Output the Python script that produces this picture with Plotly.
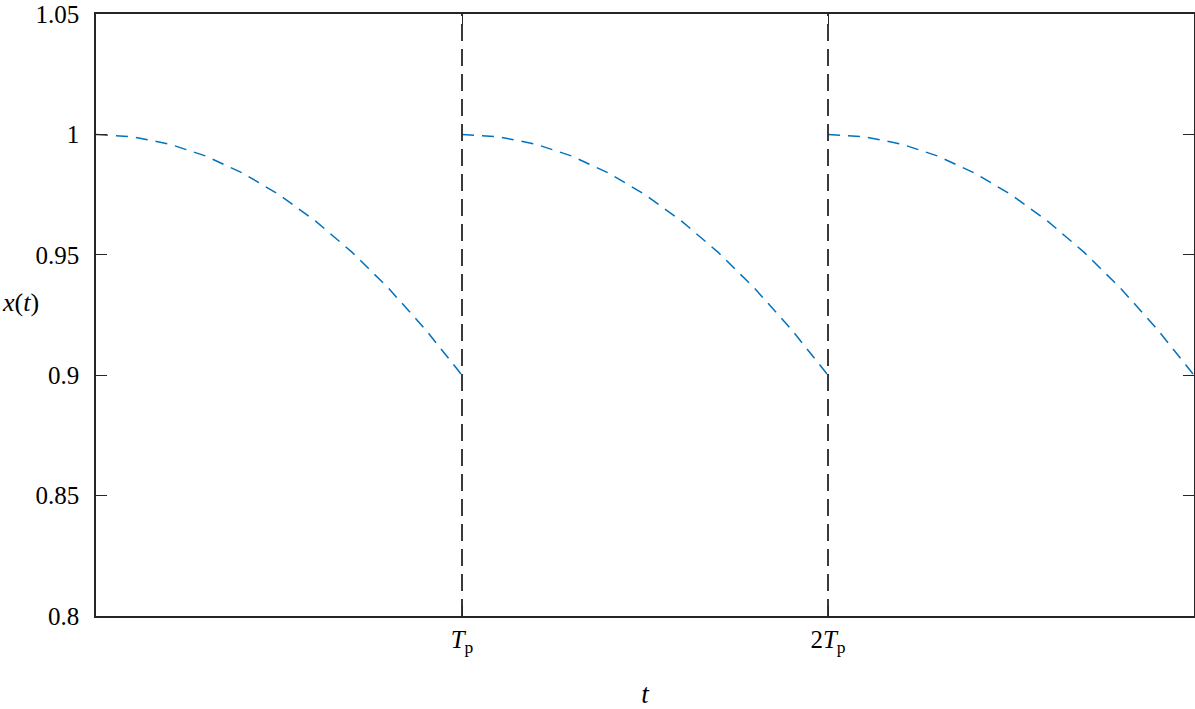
import plotly.graph_objects as go

phase = [0.0, 0.1, 0.2, 0.3, 0.4, 0.5, 0.6, 0.7, 0.8, 0.9, 1.0]
x_vals = [1.0, 0.999, 0.996, 0.991, 0.984, 0.975, 0.964, 0.951, 0.936, 0.919, 0.900]
n_periods = 3
period_marks = [1, 2]
tick_labels = ['<i>T</i><sub>p</sub>', '2<i>T</i><sub>p</sub>']
y_ticks = [0.8, 0.85, 0.9, 0.95, 1, 1.05]
y_tick_text = ['0.8', '0.85', '0.9', '0.95', '1', '1.05']

font = 'Liberation Serif, DejaVu Serif, serif'
axis_col = '#262626'

t_all, x_all = [], []
for k in range(n_periods):
    t_all += [k + p for p in phase] + [None]
    x_all += x_vals + [None]

fig = go.Figure()
fig.add_trace(go.Scatter(x=t_all, y=x_all, mode='lines',
                         line=dict(color='#0072BD', width=1.5, dash='12px,8px'),
                         connectgaps=False, showlegend=False, cliponaxis=False))

for m in period_marks:
    fig.add_trace(go.Scatter(x=[m, m], y=[0.8, 1.05], mode='lines',
                             line=dict(color=axis_col, width=1.8, dash='17px,8px'),
                             showlegend=False))

axis_common = dict(showgrid=False, zeroline=False, showline=True, linecolor=axis_col,
                   linewidth=1.5, mirror='ticks', ticks='inside', ticklen=11,
                   tickcolor=axis_col, tickwidth=1.2, ticklabeloverflow='allow',
                   automargin=False,
                   tickfont=dict(family=font, size=25, color='black'))

fig.update_xaxes(range=[0, 3], tickvals=period_marks, ticktext=tick_labels,
                 title=dict(text='<i>t</i>', font=dict(family=font, size=27, color='black'),
                            standoff=28),
                 **axis_common)
fig.update_yaxes(range=[0.8, 1.05], tickvals=y_ticks, ticktext=y_tick_text,
                 ticklabelstandoff=10, **axis_common)

fig.add_annotation(text='<i>x</i>(<i>t</i>)', xref='paper', yref='paper',
                   x=-96 / 1098, y=0.52, xanchor='left', showarrow=False,
                   font=dict(family=font, size=26, color='black'))

fig.update_layout(width=1195, height=709, plot_bgcolor='white', paper_bgcolor='white',
                  font=dict(family=font),
                  margin=dict(l=96, r=1, t=14, b=93))

# drop the page's default body margin so the figure sits at the top-left corner
fig.write_html("out.html", config={'displayModeBar': False},
               post_script="document.body.style.margin = '0px';")
